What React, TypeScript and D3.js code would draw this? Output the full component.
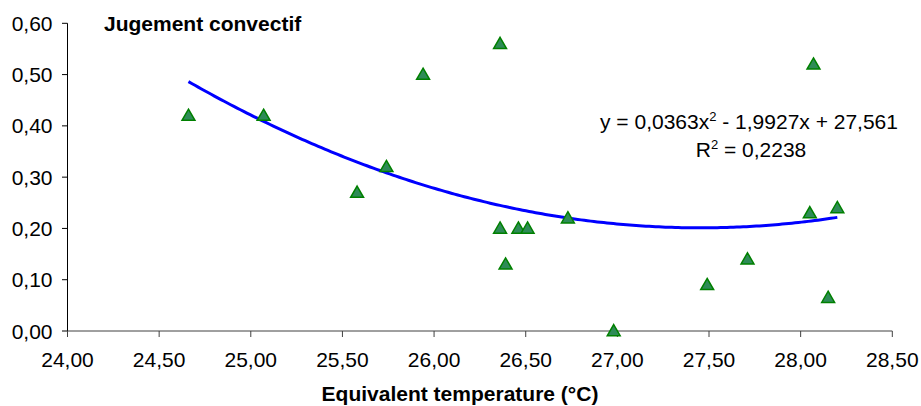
import React from "react";
import * as d3 from "d3";

const xTicks = [24.0, 24.5, 25.0, 25.5, 26.0, 26.5, 27.0, 27.5, 28.0, 28.5];
const yTicks = [0, 0.1, 0.2, 0.3, 0.4, 0.5, 0.6];
const tempX = [24.66, 25.07, 25.58, 25.74, 25.94, 26.36, 26.36, 26.39, 26.46, 26.51, 26.73, 26.98, 27.49, 27.71, 28.05, 28.07, 28.15, 28.2];
const judgY = [0.42, 0.42, 0.27, 0.32, 0.5, 0.56, 0.2, 0.13, 0.2, 0.2, 0.22, 0.0, 0.09, 0.14, 0.23, 0.52, 0.065, 0.24];
const chartTitle = "Jugement convectif";
const xTitle = "Equivalent temperature (°C)";

function quadFit(xs: number[], ys: number[]) {
  // least squares y = a x^2 + b x + c
  const n = xs.length;
  let s0 = n, s1 = 0, s2 = 0, s3 = 0, s4 = 0, t0 = 0, t1 = 0, t2 = 0;
  for (let i = 0; i < n; i++) {
    const x = xs[i], y = ys[i];
    s1 += x; s2 += x * x; s3 += x * x * x; s4 += x * x * x * x;
    t0 += y; t1 += x * y; t2 += x * x * y;
  }
  const M = [
    [s4, s3, s2, t2],
    [s3, s2, s1, t1],
    [s2, s1, s0, t0],
  ];
  for (let i = 0; i < 3; i++) {
    let p = i;
    for (let r = i + 1; r < 3; r++) if (Math.abs(M[r][i]) > Math.abs(M[p][i])) p = r;
    [M[i], M[p]] = [M[p], M[i]];
    for (let r = 0; r < 3; r++) {
      if (r === i) continue;
      const f = M[r][i] / M[i][i];
      for (let c = i; c < 4; c++) M[r][c] -= f * M[i][c];
    }
  }
  return [M[0][3] / M[0][0], M[1][3] / M[1][1], M[2][3] / M[2][2]];
}

export default function App() {
  const W = 921, H = 406;
  const x = d3.scaleLinear().domain([24, 28.5]).range([67.5, 892.3]);
  const y = d3.scaleLinear().domain([0, 0.6]).range([331, 23.3]);
  const fmt = (v: number) => v.toFixed(2).replace(".", ",");
  const [a, b, c] = quadFit(tempX, judgY);
  const xmin = d3.min(tempX)!, xmax = d3.max(tempX)!;
  const curve = d3.range(0, 201).map((i) => {
    const xv = xmin + ((xmax - xmin) * i) / 200;
    return [xv, a * xv * xv + b * xv + c] as [number, number];
  });
  const line = d3.line<[number, number]>().x((d) => x(d[0])).y((d) => y(d[1]));
  const tri = d3.symbol().type(d3.symbolTriangle).size(72);
  const font = "'Liberation Sans', Arial, sans-serif";
  return (
    <svg width={W} height={H} style={{ position: "absolute", left: 0, top: 0, background: "#fff" }} fontFamily={font}>
      <rect width={W} height={H} fill="#fff" />
      {/* y axis */}
      <line x1={67.5} x2={67.5} y1={y(0.6)} y2={y(0)} stroke="#000" strokeWidth={1} />
      {yTicks.map((t) => (
        <g key={"y" + t}>
          <line x1={62} x2={67.5} y1={y(t)} y2={y(t)} stroke="#000" />
          <text x={52.5} y={y(t)} dy="0.36em" textAnchor="end" fontSize={21} fill="#000">{fmt(t)}</text>
        </g>
      ))}
      {/* x axis */}
      <line x1={x(24)} x2={x(28.5)} y1={331} y2={331} stroke="#404040" strokeWidth={1} />
      {xTicks.map((t) => (
        <g key={"x" + t}>
          <line x1={x(t)} x2={x(t)} y1={331} y2={337} stroke="#404040" />
          <text x={x(t)} y={366.5} textAnchor="middle" fontSize={21} fill="#000">{fmt(t)}</text>
        </g>
      ))}
      {/* trend line */}
      <path d={line(curve) || ""} fill="none" stroke="#0000ff" strokeWidth={3} />
      {/* points */}
      {tempX.map((xv, i) => (
        <path key={"p" + i} d={tri() || ""} transform={`translate(${x(xv)},${y(judgY[i]) + 1})`} fill="#2e8b57" stroke="#008000" strokeWidth={1.5} />
      ))}
      <text x={104} y={31} fontSize={21} fontWeight="bold" fill="#000">{chartTitle}</text>
      <text x={460} y={401} textAnchor="middle" fontSize={21} fontWeight="bold" fill="#000">{xTitle}</text>
      <text x={749} y={129} textAnchor="middle" fontSize={21} fill="#000">
        y = 0,0363x<tspan fontSize={13} dy={-8}>2</tspan><tspan dy={8}> - 1,9927x + 27,561</tspan>
      </text>
      <text x={751} y={157} textAnchor="middle" fontSize={21} fill="#000">
        R<tspan fontSize={13} dy={-8}>2</tspan><tspan dy={8}> = 0,2238</tspan>
      </text>
    </svg>
  );
}
